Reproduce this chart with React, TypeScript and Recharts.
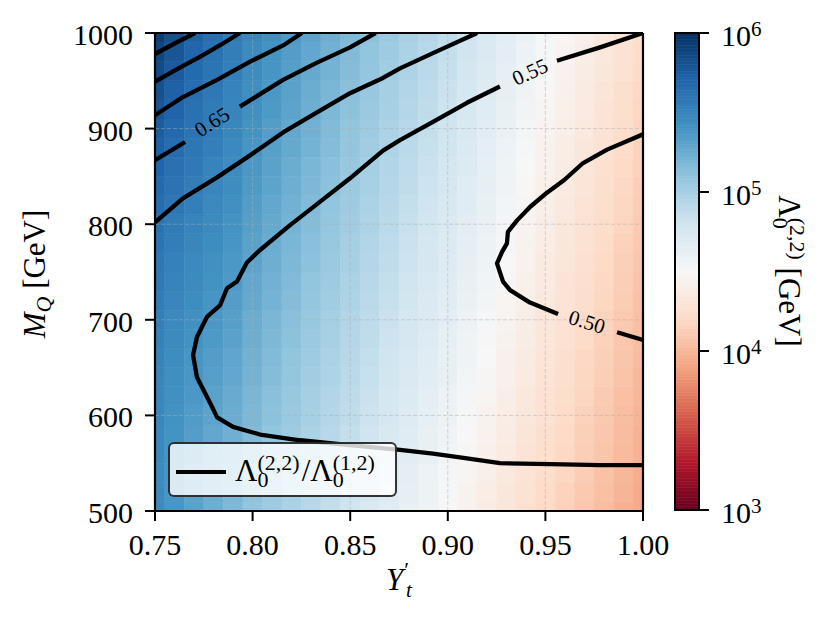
import React from 'react';
import {
  ComposedChart,
  XAxis,
  YAxis,
  ReferenceArea,
  ReferenceLine,
  Line,
  Scatter,
  Legend,
  Label,
} from 'recharts';

const FONT = '"Liberation Serif", "Times New Roman", serif';

// ---------- axes ----------
const xTicks = [0.75, 0.8, 0.85, 0.9, 0.95, 1.0];
const yTicks = [500, 600, 700, 800, 900, 1000];
const gridX = [0.8, 0.85, 0.9, 0.95];
const gridY = [600, 700, 800, 900];
const cbTicks = [1e3, 1e4, 1e5, 1e6];

// ---------- heat map grid (cell centres) ----------
const yPrimeT = [
  0.75, 0.76, 0.77, 0.78, 0.79, 0.8, 0.81, 0.82, 0.83, 0.84, 0.85, 0.86, 0.87,
  0.88, 0.89, 0.9, 0.91, 0.92, 0.93, 0.94, 0.95, 0.96, 0.97, 0.98, 0.99, 1.0,
];
const massQ = [
  500, 520, 540, 560, 580, 600, 620, 640, 660, 680, 700, 720, 740, 760, 780,
  800, 820, 840, 860, 880, 900, 920, 940, 960, 980, 1000,
];

// log10(Lambda_0^(2,2) / GeV), rows = massQ (ascending), cols = yPrimeT
const log10Lambda22 = [
  [5.46,5.38,5.31,5.24,5.17,5.10,5.04,4.98,4.92,4.86,4.80,4.74,4.68,4.62,4.56,4.50,4.44,4.38,4.32,4.26,4.20,4.15,4.09,4.04,3.98,3.93],
  [5.46,5.38,5.31,5.25,5.19,5.12,5.06,5.00,4.94,4.88,4.82,4.76,4.70,4.64,4.58,4.52,4.45,4.39,4.33,4.27,4.21,4.16,4.10,4.05,3.99,3.94],
  [5.46,5.39,5.32,5.26,5.20,5.13,5.07,5.01,4.95,4.89,4.83,4.77,4.71,4.65,4.59,4.53,4.47,4.41,4.35,4.29,4.23,4.18,4.12,4.06,4.00,3.95],
  [5.47,5.39,5.33,5.27,5.22,5.15,5.09,5.03,4.97,4.91,4.85,4.79,4.73,4.67,4.61,4.55,4.48,4.42,4.36,4.30,4.24,4.19,4.13,4.08,4.02,3.97],
  [5.47,5.40,5.34,5.28,5.23,5.16,5.10,5.04,4.98,4.92,4.86,4.80,4.74,4.68,4.62,4.56,4.50,4.44,4.38,4.31,4.25,4.20,4.14,4.09,4.03,3.98],
  [5.48,5.41,5.35,5.30,5.25,5.18,5.12,5.06,5.00,4.94,4.88,4.82,4.76,4.70,4.64,4.58,4.51,4.45,4.39,4.33,4.27,4.21,4.15,4.10,4.04,3.99],
  [5.49,5.42,5.37,5.31,5.26,5.19,5.13,5.07,5.01,4.95,4.89,4.83,4.77,4.71,4.65,4.59,4.53,4.47,4.40,4.34,4.28,4.23,4.17,4.11,4.05,4.00],
  [5.50,5.43,5.38,5.33,5.28,5.21,5.15,5.09,5.03,4.97,4.91,4.85,4.79,4.73,4.67,4.61,4.54,4.48,4.42,4.36,4.29,4.24,4.18,4.13,4.07,4.01],
  [5.51,5.44,5.39,5.34,5.29,5.22,5.16,5.10,5.04,4.98,4.92,4.86,4.80,4.74,4.68,4.62,4.56,4.50,4.43,4.37,4.31,4.25,4.19,4.14,4.08,4.03],
  [5.52,5.46,5.41,5.36,5.31,5.24,5.18,5.12,5.06,5.00,4.94,4.88,4.82,4.76,4.70,4.64,4.57,4.51,4.45,4.38,4.32,4.27,4.21,4.15,4.09,4.04],
  [5.53,5.47,5.42,5.37,5.33,5.25,5.19,5.13,5.07,5.01,4.95,4.89,4.83,4.77,4.71,4.65,4.59,4.52,4.46,4.40,4.33,4.28,4.22,4.16,4.10,4.05],
  [5.55,5.49,5.44,5.39,5.34,5.27,5.21,5.15,5.09,5.03,4.97,4.91,4.85,4.79,4.73,4.67,4.60,4.54,4.47,4.41,4.35,4.29,4.23,4.18,4.12,4.06],
  [5.57,5.51,5.46,5.41,5.36,5.28,5.22,5.16,5.10,5.04,4.98,4.92,4.86,4.80,4.74,4.68,4.62,4.55,4.49,4.42,4.36,4.30,4.24,4.19,4.13,4.07],
  [5.58,5.52,5.47,5.42,5.37,5.30,5.24,5.18,5.12,5.06,5.00,4.94,4.88,4.82,4.76,4.70,4.63,4.57,4.50,4.44,4.37,4.32,4.26,4.20,4.14,4.09],
  [5.60,5.54,5.49,5.44,5.39,5.31,5.25,5.19,5.13,5.07,5.01,4.95,4.89,4.83,4.77,4.71,4.65,4.58,4.52,4.45,4.39,4.33,4.27,4.21,4.15,4.10],
  [5.63,5.56,5.51,5.46,5.40,5.33,5.27,5.21,5.15,5.09,5.03,4.97,4.91,4.85,4.79,4.73,4.66,4.60,4.53,4.46,4.40,4.34,4.28,4.23,4.17,4.11],
  [5.65,5.59,5.53,5.47,5.42,5.34,5.28,5.22,5.16,5.10,5.04,4.98,4.92,4.86,4.80,4.74,4.68,4.61,4.54,4.48,4.41,4.35,4.29,4.24,4.18,4.12],
  [5.67,5.61,5.55,5.49,5.44,5.36,5.30,5.24,5.18,5.12,5.06,5.00,4.94,4.88,4.82,4.76,4.69,4.63,4.56,4.49,4.42,4.37,4.31,4.25,4.19,4.13],
  [5.70,5.63,5.57,5.51,5.45,5.37,5.31,5.25,5.19,5.13,5.07,5.01,4.95,4.89,4.83,4.77,4.71,4.64,4.57,4.50,4.44,4.38,4.32,4.26,4.20,4.15],
  [5.73,5.66,5.59,5.53,5.47,5.39,5.33,5.27,5.21,5.15,5.09,5.03,4.97,4.91,4.85,4.79,4.72,4.65,4.59,4.52,4.45,4.39,4.33,4.28,4.22,4.16],
  [5.75,5.68,5.61,5.55,5.48,5.40,5.34,5.28,5.22,5.16,5.10,5.04,4.98,4.92,4.86,4.80,4.74,4.67,4.60,4.53,4.46,4.41,4.35,4.29,4.23,4.17],
  [5.79,5.71,5.63,5.56,5.50,5.42,5.36,5.30,5.24,5.18,5.12,5.06,5.00,4.94,4.88,4.82,4.75,4.68,4.61,4.55,4.48,4.42,4.36,4.30,4.24,4.18],
  [5.82,5.73,5.65,5.58,5.51,5.43,5.37,5.31,5.25,5.19,5.13,5.07,5.01,4.95,4.89,4.83,4.77,4.70,4.63,4.56,4.49,4.43,4.37,4.31,4.25,4.19],
  [5.85,5.76,5.67,5.60,5.53,5.45,5.39,5.33,5.27,5.21,5.15,5.09,5.03,4.97,4.91,4.85,4.78,4.71,4.64,4.57,4.50,4.44,4.38,4.33,4.27,4.21],
  [5.88,5.79,5.70,5.62,5.54,5.46,5.40,5.34,5.28,5.22,5.16,5.10,5.04,4.98,4.92,4.86,4.80,4.73,4.66,4.59,4.52,4.46,4.40,4.34,4.28,4.22],
  [5.92,5.82,5.72,5.64,5.56,5.48,5.42,5.36,5.30,5.24,5.18,5.12,5.06,5.00,4.94,4.88,4.81,4.74,4.67,4.60,4.53,4.47,4.41,4.35,4.29,4.23],
];

// ---------- contour lines of Lambda^(2,2)/Lambda^(1,2): [Y't, M_Q] ----------
const contour080 = [[0.75, 978], [0.76, 989], [0.7705, 1000]];
const contour075 = [[0.75, 949], [0.762, 963], [0.773, 975], [0.784, 988], [0.7935, 1000]];
const contour070 = [[0.75, 914], [0.7643, 933], [0.7818, 951], [0.7987, 970], [0.8156, 987], [0.8253, 1000]];
const contour065a = [[0.75, 867], [0.7654, 886]];
const contour065b = [[0.7935, 923], [0.8156, 951], [0.833, 969], [0.8499, 985], [0.863, 1000]];
const contour060 = [
  [0.75, 802], [0.7643, 827], [0.7818, 849], [0.7987, 872], [0.8156, 896], [0.833, 917],
  [0.8499, 937], [0.8668, 953], [0.8755, 963], [0.8924, 979], [0.915, 1000],
];
const contour055a = [[1.0, 1000], [0.978, 985], [0.9559, 971]];
const contour055b = [
  [0.9267, 944], [0.9098, 927], [0.8924, 907], [0.8755, 888], [0.8668, 877], [0.8499, 848],
  [0.833, 821], [0.8192, 799], [0.8038, 773], [0.7971, 760], [0.792, 740], [0.7869, 733],
  [0.7833, 715], [0.7766, 703], [0.7715, 682], [0.7695, 663], [0.7715, 640], [0.7792, 609],
  [0.7818, 598], [0.79, 588], [0.8038, 580], [0.8243, 574], [0.8499, 569], [0.8755, 564],
  [0.8924, 560], [0.9098, 555], [0.9267, 550], [0.9524, 549], [0.978, 548], [1.0, 548],
];
const contour050a = [
  [1.0, 894], [0.9816, 878], [0.9693, 864], [0.9595, 846], [0.9508, 833], [0.9421, 818],
  [0.9355, 804], [0.9308, 792], [0.9303, 780], [0.9278, 771], [0.9252, 759], [0.9283, 740],
  [0.9319, 731], [0.9421, 718], [0.9565, 706],
];
const contour050b = [[0.9867, 687], [1.0, 679]];

const contourSegments = [
  contour080, contour075, contour070, contour065a, contour065b, contour060,
  contour055a, contour055b, contour050a, contour050b,
];

// inline contour labels
const labelText = ['0.65', '0.55', '0.50'];
const labelX = [0.7792, 0.9421, 0.9713];
const labelM = [906.9, 959.2, 697.7];
const labelAngle = [-32.5, -24.5, 17];

// ---------- colour map (matplotlib RdBu) ----------
const RDBU = [
  [103, 0, 31], [178, 24, 43], [214, 96, 77], [244, 165, 130], [253, 219, 199],
  [247, 247, 247], [209, 229, 240], [146, 197, 222], [67, 147, 195], [33, 102, 172], [5, 48, 97],
];
const LOG_MIN = 3;
const LOG_MAX = 6;
function rdbu(lv: number): string {
  let t = (lv - LOG_MIN) / (LOG_MAX - LOG_MIN);
  t = Math.max(0, Math.min(1, t));
  const s = t * 10;
  const i = Math.min(9, Math.floor(s));
  const f = s - i;
  const a = RDBU[i];
  const b = RDBU[i + 1];
  const c = a.map((v, k) => Math.round(v + (b[k] - v) * f));
  return `rgb(${c[0]},${c[1]},${c[2]})`;
}

// cell edges: midpoints between centres, clipped to the axis range
function edges(c: number[]): number[] {
  const e = [c[0]];
  for (let k = 0; k < c.length - 1; k++) e.push((c[k] + c[k + 1]) / 2);
  e.push(c[c.length - 1]);
  return e;
}
const xEdges = edges(yPrimeT);
const yEdges = edges(massQ);

// colour bar slices
const CB_N = 150;
const cbSlices = Array.from({ length: CB_N }, (_, k) => {
  const a = LOG_MIN + ((LOG_MAX - LOG_MIN) * k) / CB_N;
  const b = LOG_MIN + ((LOG_MAX - LOG_MIN) * (k + 1)) / CB_N;
  return { y1: Math.pow(10, a), y2: Math.pow(10, b), color: rdbu((a + b) / 2) };
});

// ---------- renderers ----------
const renderXTick = (p: any) => (
  <text x={p.x} y={p.y + 22} textAnchor="middle" fontFamily={FONT} fontSize={30} fill="#000">
    {Number(p.payload.value).toFixed(2)}
  </text>
);
const renderYTick = (p: any) => (
  <text x={p.x} y={p.y + 12} textAnchor="end" fontFamily={FONT} fontSize={30} fill="#000">
    {p.payload.value}
  </text>
);
const renderCbTick = (p: any) => {
  const e = Math.round(Math.log10(p.payload.value));
  return (
    <text x={p.x} y={p.y + 13} textAnchor="start" fontFamily={FONT} fontSize={30} fill="#000">
      <tspan>10</tspan>
      <tspan fontSize={21} dy={-10}>{e}</tspan>
    </text>
  );
};

const renderXLabel = () => (
  <text x={399} y={590} textAnchor="middle" fontFamily={FONT} fontSize={31} fill="#000">
    <tspan fontStyle="italic">Y</tspan>
    <tspan fontSize={22} dx={1} dy={-13}>′</tspan>
    <tspan fontSize={21} fontStyle="italic" dx={-3} dy={20}>t</tspan>
  </text>
);
const renderYLabel = () => (
  <text
    x={45}
    y={274}
    textAnchor="middle"
    fontFamily={FONT}
    fontSize={31}
    fill="#000"
    transform="rotate(-90 45 274)"
  >
    <tspan fontStyle="italic">M</tspan>
    <tspan fontStyle="italic" fontSize={22} dy={6}>Q</tspan>
    <tspan dy={-6}>{'\u00a0[GeV]'}</tspan>
  </text>
);
const renderCbLabel = () => (
  <text
    x={779}
    y={271}
    textAnchor="middle"
    fontFamily={FONT}
    fontSize={31}
    fill="#000"
    transform="rotate(90 779 271)"
  >
    <tspan>Λ</tspan>
    <tspan fontSize={22} dy={6}>0</tspan>
    <tspan fontSize={22} dx={-11} dy={-17}>(2,2)</tspan>
    <tspan dy={11}>{'\u00a0[GeV]'}</tspan>
  </text>
);

const renderContourLabel = (p: any) => {
  const { cx, cy, payload } = p;
  return (
    <text
      x={cx}
      y={cy}
      textAnchor="middle"
      dominantBaseline="central"
      fontFamily={FONT}
      fontSize={21}
      fill="#000"
      transform={`rotate(${payload.angle} ${cx} ${cy})`}
    >
      {payload.text}
    </text>
  );
};

const renderLegend = () => (
  <div
    style={{
      width: 229,
      height: 55,
      boxSizing: 'border-box',
      border: '2px solid rgba(0,0,0,0.8)',
      borderRadius: 6,
      background: 'rgba(255,255,255,0.8)',
      position: 'relative',
    }}
  >
    <svg width={225} height={51} style={{ position: 'absolute', left: 0, top: 0 }}>
      <line x1={6} x2={56} y1={28} y2={28} stroke="#000" strokeWidth={4} />
      <text x={65} y={37} fontFamily={FONT} fontSize={31} fill="#000">
        <tspan>Λ</tspan>
        <tspan fontSize={22} dy={6}>0</tspan>
        <tspan fontSize={22} dx={-11} dy={-17}>(2,2)</tspan>
        <tspan dx={2} dy={11}>/Λ</tspan>
        <tspan fontSize={22} dy={6}>0</tspan>
        <tspan fontSize={22} dx={-11} dy={-17}>(1,2)</tspan>
      </text>
    </svg>
  </div>
);

export default function App() {
  const labelData = labelText.map((t, k) => ({ x: labelX[k], y: labelM[k], text: t, angle: labelAngle[k] }));
  return (
    <div style={{ position: 'absolute', left: 0, top: 0, width: 831, height: 629, background: '#fff' }}>
      {/* main heat map */}
      <div style={{ position: 'absolute', left: 0, top: 0 }}>
        <ComposedChart width={831} height={629} margin={{ top: 33, right: 188, bottom: 18, left: 35 }}>
          <XAxis
            type="number"
            dataKey="x"
            domain={[0.75, 1.0]}
            allowDataOverflow
            ticks={xTicks}
            interval={0}
            height={100}
            tickSize={10}
            tickMargin={12}
            tick={renderXTick}
            axisLine={{ stroke: '#000', strokeWidth: 2.2 }}
            tickLine={{ stroke: '#000', strokeWidth: 2 }}
            label={<Label content={renderXLabel} />}
          />
          <YAxis
            type="number"
            dataKey="y"
            domain={[500, 1000]}
            allowDataOverflow
            ticks={yTicks}
            interval={0}
            width={120}
            tickSize={10}
            tickMargin={12}
            tick={renderYTick}
            axisLine={{ stroke: '#000', strokeWidth: 2.2 }}
            tickLine={{ stroke: '#000', strokeWidth: 2 }}
            label={<Label content={renderYLabel} />}
          />
          {log10Lambda22.map((row, i) =>
            row.map((v, j) => {
              const c = rdbu(v);
              return (
                <ReferenceArea
                  key={`c-${i}-${j}`}
                  x1={xEdges[j]}
                  x2={xEdges[j + 1]}
                  y1={yEdges[i]}
                  y2={yEdges[i + 1]}
                  fill={c}
                  fillOpacity={1}
                  stroke={c}
                  strokeWidth={0.6}
                />
              );
            })
          )}
          {gridX.map((g) => (
            <ReferenceLine key={`gx-${g}`} x={g} stroke="#b0b0b0" strokeOpacity={0.5} strokeWidth={1} strokeDasharray="4 2" />
          ))}
          {gridY.map((g) => (
            <ReferenceLine key={`gy-${g}`} y={g} stroke="#b0b0b0" strokeOpacity={0.5} strokeWidth={1} strokeDasharray="4 2" />
          ))}
          {contourSegments.map((seg, k) => (
            <Line
              key={`ct-${k}`}
              data={seg.map(([x, y]) => ({ x, y }))}
              dataKey="y"
              name="ratio"
              type="linear"
              stroke="#000"
              strokeWidth={4.3}
              strokeLinejoin="round"
              strokeLinecap="butt"
              dot={false}
              activeDot={false}
              isAnimationActive={false}
            />
          ))}
          <ReferenceLine x={1.0} stroke="#000" strokeWidth={2.2} />
          <ReferenceLine y={1000} stroke="#000" strokeWidth={2.2} />
          <Scatter data={labelData} dataKey="y" shape={renderContourLabel} isAnimationActive={false} />
          <Legend
            layout="horizontal"
            verticalAlign="middle"
            align="center"
            content={renderLegend}
            wrapperStyle={{ left: 168, top: 442, right: 'auto', bottom: 'auto', width: 229, height: 55 }}
          />
        </ComposedChart>
      </div>
      {/* colour bar */}
      <div style={{ position: 'absolute', left: 0, top: 0 }}>
        <ComposedChart width={831} height={629} margin={{ top: 33, right: 32, bottom: 119, left: 675 }}>
          <XAxis type="number" dataKey="x" domain={[0, 1]} hide allowDataOverflow />
          <YAxis
            type="number"
            orientation="right"
            scale="log"
            domain={[1e3, 1e6]}
            allowDataOverflow
            ticks={cbTicks}
            interval={0}
            width={100}
            tickSize={10}
            tickMargin={12}
            tick={renderCbTick}
            axisLine={{ stroke: '#000', strokeWidth: 2 }}
            tickLine={{ stroke: '#000', strokeWidth: 2 }}
            label={<Label content={renderCbLabel} />}
          />
          {cbSlices.map((s, k) => (
            <ReferenceArea
              key={`cb-${k}`}
              x1={0}
              x2={1}
              y1={s.y1}
              y2={s.y2}
              fill={s.color}
              fillOpacity={1}
              stroke={s.color}
              strokeWidth={0.6}
            />
          ))}
          <ReferenceArea x1={0} x2={1} y1={1e3} y2={1e6} fill="none" stroke="#000" strokeWidth={2} />
        </ComposedChart>
      </div>
    </div>
  );
}
